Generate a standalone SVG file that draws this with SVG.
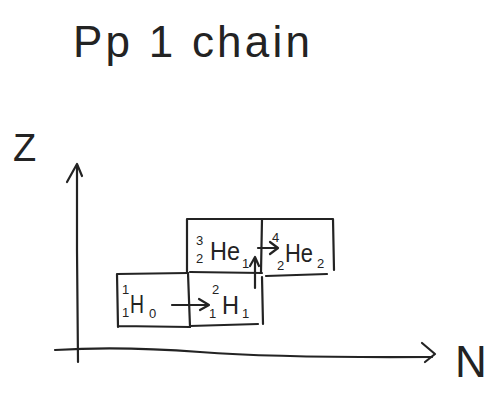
<svg xmlns="http://www.w3.org/2000/svg" width="493" height="394" viewBox="0 0 493 394">
<style>
.ln{fill:none;stroke:#232323;stroke-width:2.2;stroke-linecap:round;stroke-linejoin:round}
.t{font-family:"Liberation Sans",Arial,sans-serif;fill:#232323}
.big{font-size:25px}
.sm{font-size:13px}
</style>
<rect width="493" height="394" fill="#ffffff"/>
<g id="title">
<text class="t" x="73" y="57" font-size="44" textLength="237" lengthAdjust="spacing">Pp 1 chain</text>
</g>
<g id="axes">
<path class="ln" d="M78,362 L77,250 L77,165"/>
<path class="ln" d="M67,182 L77,164 L82,176"/>
<path class="ln" d="M55,350 Q120,346 200,352 T432,357"/>
<path class="ln" d="M422,343 L435,354 L425,362"/>
<text class="t" x="13" y="161" font-size="38">Z</text>
<text class="t" x="455" y="377" font-size="44">N</text>
</g>
<g id="box-H1">
<path class="ln" d="M117,274 L188,273 M117,274 L118,327 M118,326 L190,327"/>
<text class="t sm" x="122" y="294">1</text>
<text class="t sm" x="122" y="317">1</text>
<text class="t big" x="130" y="313" textLength="14" lengthAdjust="spacingAndGlyphs">H</text>
<text class="t sm" x="149" y="318">0</text>
</g>
<g id="box-H2">
<path class="ln" d="M188,273 L190,327 M190,326 L258,324 M262,277 L263,324"/>
<text class="t sm" x="212" y="294">2</text>
<text class="t sm" x="209" y="318">1</text>
<text class="t big" x="222" y="314" textLength="17" lengthAdjust="spacingAndGlyphs">H</text>
<text class="t sm" x="242" y="318">1</text>
</g>
<g id="box-He3">
<path class="ln" d="M187,219 L262,219 M187,219 L187,272 M190,272 L262,273 M262,219 L261,272"/>
<text class="t sm" x="196" y="245">3</text>
<text class="t sm" x="196" y="263">2</text>
<text class="t big" x="210" y="260" textLength="30" lengthAdjust="spacingAndGlyphs">He</text>
<text class="t sm" x="242" y="268" font-size="10">1</text>
</g>
<g id="box-He4">
<path class="ln" d="M262,219 L333,219 M333,219 L334,270 M266,276 L327,274"/>
<text class="t sm" x="272" y="242">4</text>
<text class="t sm" x="277" y="270" font-size="11">2</text>
<text class="t big" x="285" y="262" textLength="28" lengthAdjust="spacingAndGlyphs">He</text>
<text class="t sm" x="317" y="268">2</text>
</g>
<g id="connectors">
<path class="ln" d="M172,305 L208,305 M199,299 L209,305 L200,310"/>
<path class="ln" d="M255,288 L255,258 M250,266 L255,257 L259,266"/>
<path class="ln" d="M258,248 L277,248 M270,242 L278,248 L270,254"/>
</g>
</svg>
